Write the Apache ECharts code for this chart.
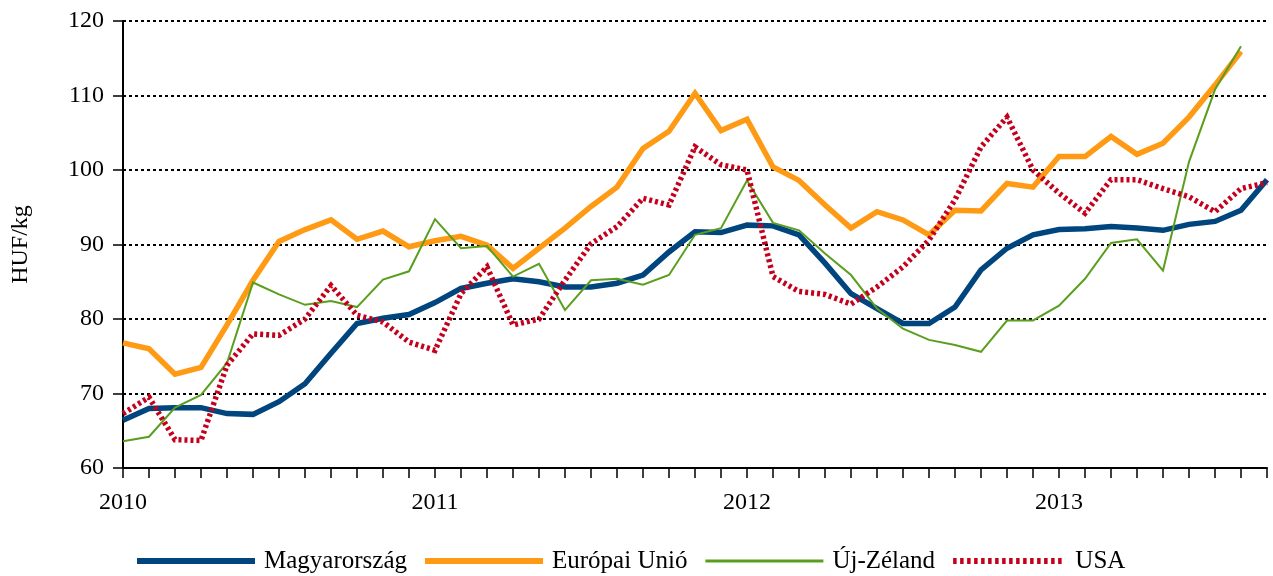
<!DOCTYPE html>
<html>
<head>
<meta charset="utf-8">
<title>HUF/kg</title>
<script src="https://cdn.jsdelivr.net/npm/echarts@6/dist/echarts.min.js"></script>
<style>
  html, body { margin: 0; padding: 0; background: #fff; }
  #chart { width: 1273px; height: 576px; }
</style>
</head>
<body>
<div id="chart"></div>
<script>
// monthly, Jan 2010 .. Sep 2013
const months = [
  '2010-01', '2010-02', '2010-03', '2010-04', '2010-05', '2010-06', '2010-07', '2010-08', '2010-09', '2010-10', '2010-11', '2010-12',
  '2011-01', '2011-02', '2011-03', '2011-04', '2011-05', '2011-06', '2011-07', '2011-08', '2011-09', '2011-10', '2011-11', '2011-12',
  '2012-01', '2012-02', '2012-03', '2012-04', '2012-05', '2012-06', '2012-07', '2012-08', '2012-09', '2012-10', '2012-11', '2012-12',
  '2013-01', '2013-02', '2013-03', '2013-04', '2013-05', '2013-06', '2013-07', '2013-08', '2013-09'
];

const seriesNames = ['Magyarország', 'Európai Unió', 'Új-Zéland', 'USA'];

const magyarorszag = [
  66.4, 68.0, 68.1, 68.1, 67.3, 67.2, 68.9, 71.3, 75.4, 79.4, 80.1, 80.6,
  82.2, 84.1, 84.8, 85.4, 85.0, 84.3, 84.3, 84.8, 85.9, 89.0, 91.7, 91.6,
  92.6, 92.5, 91.3, 87.5, 83.4, 81.4, 79.4, 79.4, 81.6, 86.6, 89.5, 91.3,
  92.0, 92.1, 92.4, 92.2, 91.9, 92.7, 93.1, 94.6, 98.7
];

const europaiUnio = [
  76.8, 76.0, 72.6, 73.5, 79.2, 85.2, 90.4, 92.0, 93.3, 90.7, 91.8, 89.7,
  90.5, 91.1, 89.9, 86.8, 89.5, 92.2, 95.1, 97.7, 102.9, 105.2, 110.3, 105.3,
  106.8, 100.4, 98.6, 95.3, 92.2, 94.4, 93.3, 91.3, 94.6, 94.5, 98.2, 97.7,
  101.8, 101.8, 104.5, 102.1, 103.6, 107.1, 111.4, 115.9, null
];

const ujZeland = [
  63.6, 64.2, 68.1, 69.8, 74.1, 84.9, 83.3, 81.9, 82.4, 81.6, 85.3, 86.4,
  93.4, 89.5, 89.8, 85.7, 87.4, 81.2, 85.2, 85.4, 84.6, 85.9, 91.3, 92.2,
  98.6, 92.9, 91.9, 88.8, 85.9, 81.4, 78.7, 77.2, 76.5, 75.6, 79.8, 79.8,
  81.8, 85.4, 90.2, 90.7, 86.5, 101.1, 110.8, 116.6, null
];

const usa = [
  67.3, 69.5, 63.8, 63.7, 73.8, 78.0, 77.8, 80.0, 84.5, 80.5, 79.6, 76.9,
  75.8, 83.4, 87.0, 79.2, 80.0, 85.2, 90.1, 92.4, 96.2, 95.3, 103.1, 100.7,
  100.0, 85.7, 83.7, 83.3, 82.0, 84.3, 87.0, 90.6, 96.0, 103.1, 107.1, 100.0,
  96.9, 94.2, 98.7, 98.7, 97.5, 96.4, 94.4, 97.5, 98.3
];

const FONT = '"Liberation Serif", "Times New Roman", serif';
const colors = ['#00457E', '#FF9A14', '#5A9E1E', '#C4001C'];

// dotted legend key for USA: short bars, 7 units apart
let dotted = 'path://';
for (let x = 0; x < 112; x += 7) {
  dotted += 'M' + x + ',0h3.5v6h-3.5z';
}

const chart = echarts.init(document.getElementById('chart'), null, { renderer: 'canvas' });

function lineSeries(name, data, color, width, dash) {
  return {
    name: name,
    type: 'line',
    data: data,
    symbol: 'none',
    showSymbol: false,
    animation: false,
    lineStyle: {
      color: color,
      width: width,
      type: dash || 'solid',
      cap: 'butt',
      join: 'miter',
    },
    itemStyle: { color: color },
  };
}

chart.setOption({
  backgroundColor: '#fff',
  animation: false,
  grid: {
    left: 123,
    right: 6,
    top: 21,
    bottom: 108,
    containLabel: false,
  },
  legend: {
    data: [
      { name: seriesNames[0], icon: 'rect' },
      { name: seriesNames[1], icon: 'rect' },
      { name: seriesNames[2], icon: 'path://M0,0h118v3h-118z' },
      { name: seriesNames[3], icon: dotted },
    ],
    left: 132,
    top: 542,
    itemWidth: 118,
    itemHeight: 6,
    itemGap: 18,
    textStyle: {
      fontFamily: FONT,
      fontSize: 25,
      color: '#000',
      lineHeight: 28,
      padding: [0, 0, 0, 4],
    },
  },
  xAxis: {
    type: 'category',
    data: months,
    boundaryGap: false,
    axisLine: { lineStyle: { color: '#000', width: 2 } },
    axisTick: {
      show: true,
      interval: 0,
      length: 10,
      lineStyle: { color: '#000', width: 1.5 },
    },
    axisLabel: {
      interval: 0,
      margin: 23,
      fontFamily: FONT,
      fontSize: 24,
      color: '#000',
      formatter: v => (v.slice(5) === '01' ? v.slice(0, 4) : ''),
    },
    splitLine: { show: false },
  },
  yAxis: {
    type: 'value',
    min: 60,
    max: 120,
    interval: 10,
    name: 'HUF/kg',
    nameLocation: 'middle',
    nameGap: 90,
    nameRotate: 90,
    nameTextStyle: {
      fontFamily: FONT,
      fontSize: 24,
      color: '#000',
    },
    axisLine: { show: true, lineStyle: { color: '#000', width: 2 } },
    axisTick: {
      show: true,
      length: 10,
      lineStyle: { color: '#000', width: 1.5 },
    },
    axisLabel: {
      margin: 19,
      fontFamily: FONT,
      fontSize: 24,
      color: '#000',
    },
    splitLine: {
      show: true,
      lineStyle: { color: '#000', width: 2, type: [3, 3] },
    },
  },
  series: [
    lineSeries(seriesNames[0], magyarorszag, colors[0], 5.5),
    lineSeries(seriesNames[1], europaiUnio, colors[1], 5.5),
    lineSeries(seriesNames[2], ujZeland, colors[2], 2),
    lineSeries(seriesNames[3], usa, colors[3], 5.5, [3, 3]),
  ],
});
</script>
</body>
</html>
